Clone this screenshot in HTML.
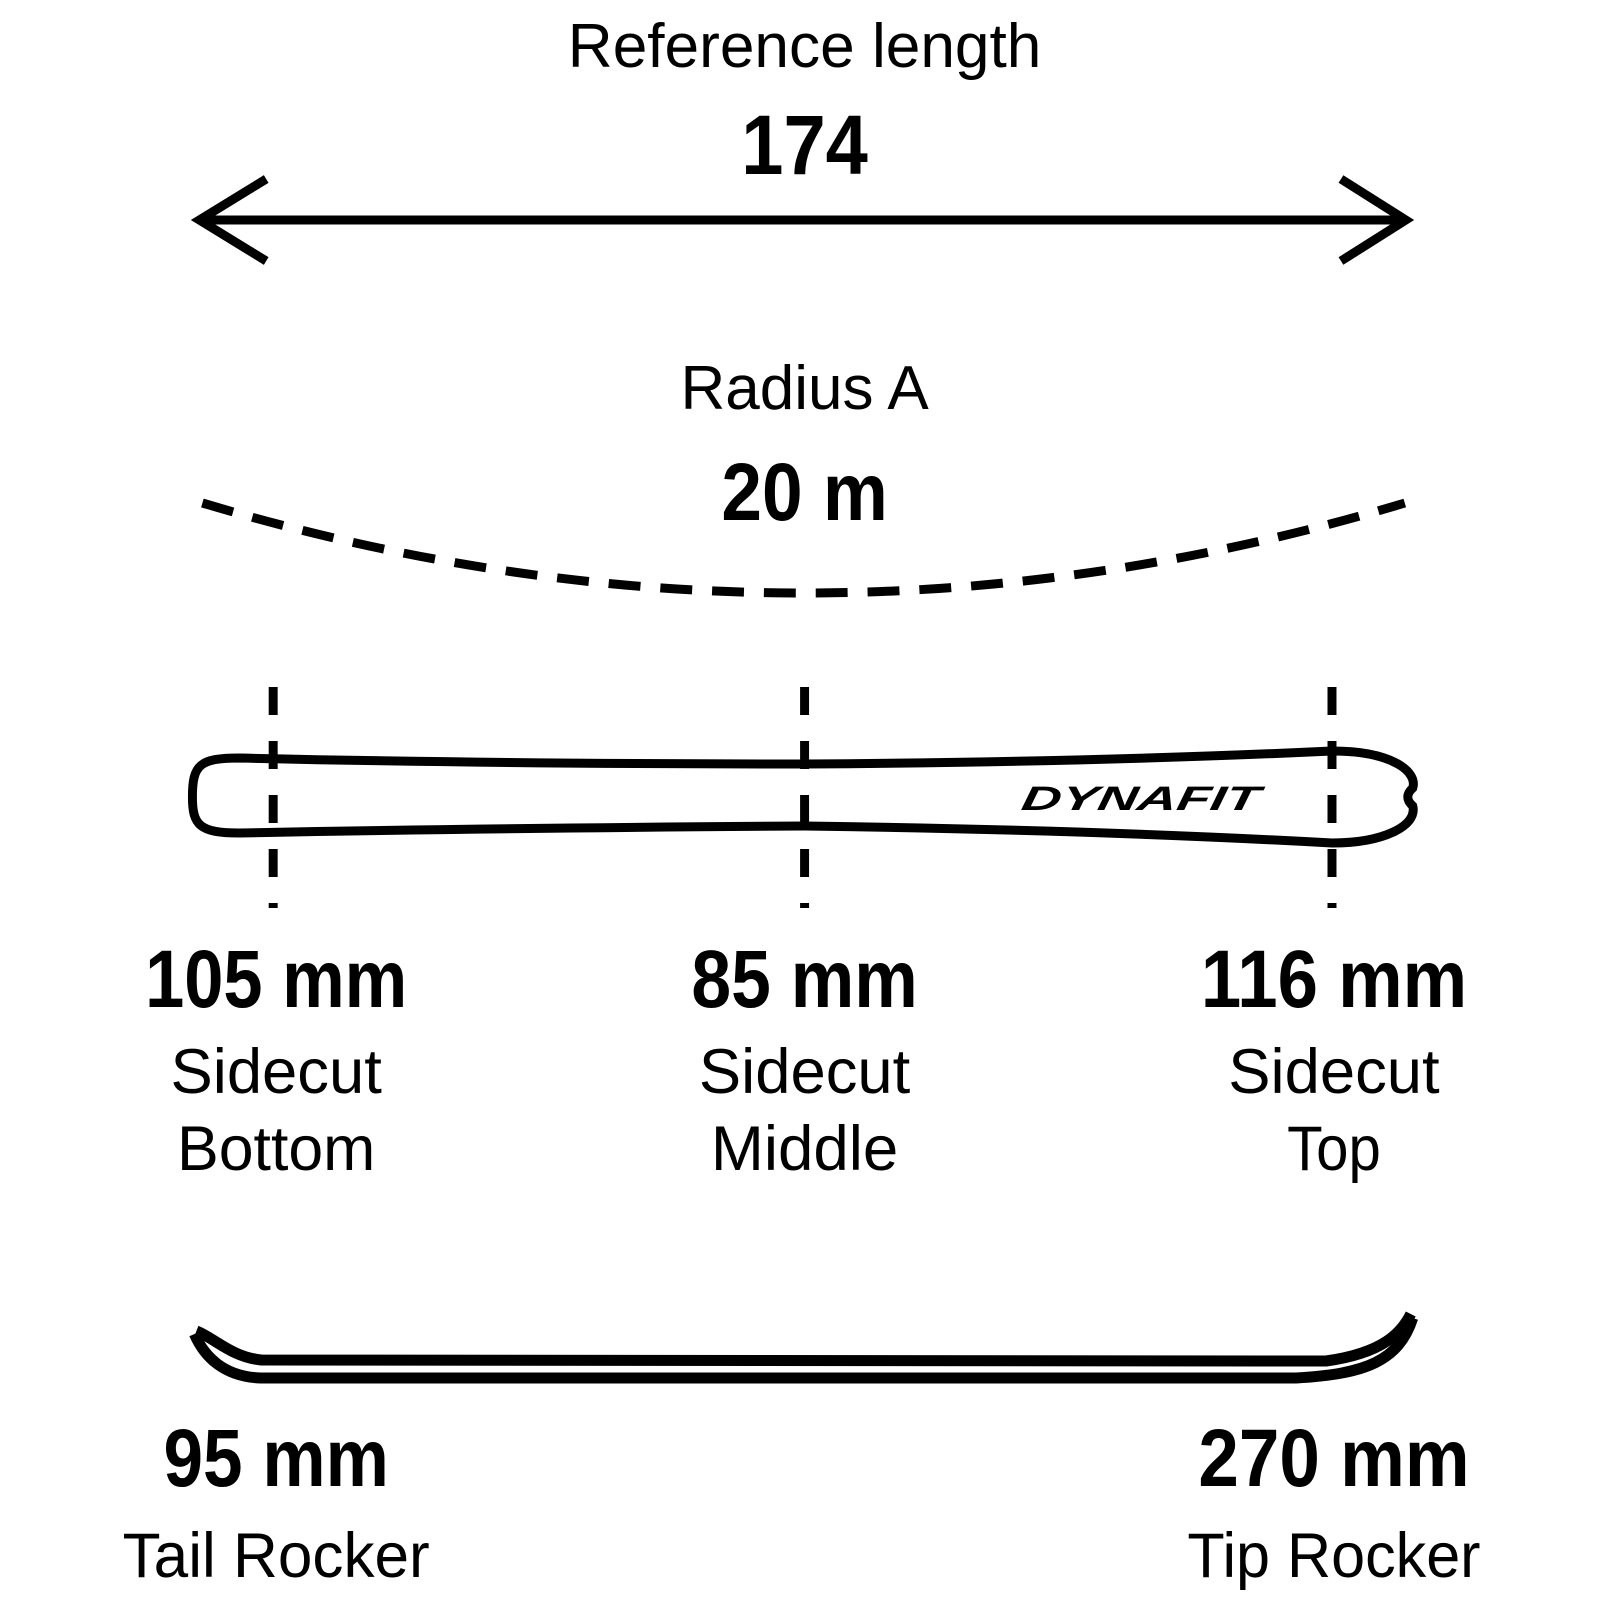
<!DOCTYPE html>
<html><head><style>html,body{margin:0;padding:0;background:#fff}svg{display:block}</style></head>
<body>
<svg width="1600" height="1600" viewBox="0 0 1600 1600" xmlns="http://www.w3.org/2000/svg">
<g transform="translate(0,0) scale(0.997,1)">
<g font-family="Liberation Sans, sans-serif" fill="#000" text-anchor="middle">
<text x="807" y="67" font-size="62" textLength="475" lengthAdjust="spacingAndGlyphs">Reference length</text>
<text x="807" y="174" font-size="84" font-weight="bold" textLength="127" lengthAdjust="spacingAndGlyphs">174</text>
<text x="807" y="409" font-size="62" textLength="249" lengthAdjust="spacingAndGlyphs">Radius A</text>
<text x="807" y="520" font-size="82" font-weight="bold" textLength="167" lengthAdjust="spacingAndGlyphs">20 m</text>

<text x="277" y="1007" font-size="82" font-weight="bold" textLength="263" lengthAdjust="spacingAndGlyphs">105 mm</text>
<text x="807" y="1007" font-size="82" font-weight="bold" textLength="227" lengthAdjust="spacingAndGlyphs">85 mm</text>
<text x="1338" y="1007" font-size="82" font-weight="bold" textLength="267" lengthAdjust="spacingAndGlyphs">116 mm</text>
<text x="277" y="1093" font-size="63" textLength="212" lengthAdjust="spacingAndGlyphs">Sidecut</text>
<text x="807" y="1093" font-size="63" textLength="212" lengthAdjust="spacingAndGlyphs">Sidecut</text>
<text x="1338" y="1093" font-size="63" textLength="212" lengthAdjust="spacingAndGlyphs">Sidecut</text>
<text x="277" y="1170" font-size="63" textLength="199" lengthAdjust="spacingAndGlyphs">Bottom</text>
<text x="807" y="1170" font-size="63" textLength="188" lengthAdjust="spacingAndGlyphs">Middle</text>
<text x="1338" y="1170" font-size="63" textLength="94" lengthAdjust="spacingAndGlyphs">Top</text>

<text x="277" y="1486" font-size="82" font-weight="bold" textLength="226" lengthAdjust="spacingAndGlyphs">95 mm</text>
<text x="1338" y="1486" font-size="82" font-weight="bold" textLength="272" lengthAdjust="spacingAndGlyphs">270 mm</text>
<text x="277" y="1577" font-size="63" textLength="308" lengthAdjust="spacingAndGlyphs">Tail Rocker</text>
<text x="1338" y="1577" font-size="63" textLength="294" lengthAdjust="spacingAndGlyphs">Tip Rocker</text>

<text x="1144" y="810" font-size="34" font-weight="bold" font-style="italic" textLength="238" lengthAdjust="spacingAndGlyphs" transform="skewX(-10)" transform-origin="1144 800">DYNAFIT</text>
</g>
<g fill="none" stroke="#000" stroke-width="9">
<line x1="202" y1="220" x2="1408" y2="220"/>
<polyline points="267,179 200,220 267,261"/>
<polyline points="1345,179 1410,220 1345,261"/>
<path d="M203 503 Q807 683 1409 503" stroke-dasharray="32 20"/>
<line x1="274" y1="687" x2="274" y2="908" stroke-dasharray="28 26"/>
<line x1="807" y1="687" x2="807" y2="908" stroke-dasharray="28 26"/>
<line x1="1336" y1="687" x2="1336" y2="908" stroke-dasharray="28 26"/>
<path d="M240 758 Q500 764 807 764 Q1100 762 1336 751 C1397 751 1422 772 1417 788 Q1407 797 1417 806 C1422 826 1387 843 1336 843 Q1100 830 807 826 Q500 828 240 833 C200 833 193 825 193 797 C193 765 200 758 240 758 Z" stroke-width="9"/>
<path d="M197 1331 C215 1338 232 1357 262 1360 L1330 1361 C1388 1353 1406 1332 1415 1314" stroke-width="11"/>
<path d="M195 1334 C205 1357 225 1377 262 1378 L1300 1378 C1370 1374 1403 1361 1417 1318" stroke-width="11"/>
</g>
</g>
</svg>
</body></html>
